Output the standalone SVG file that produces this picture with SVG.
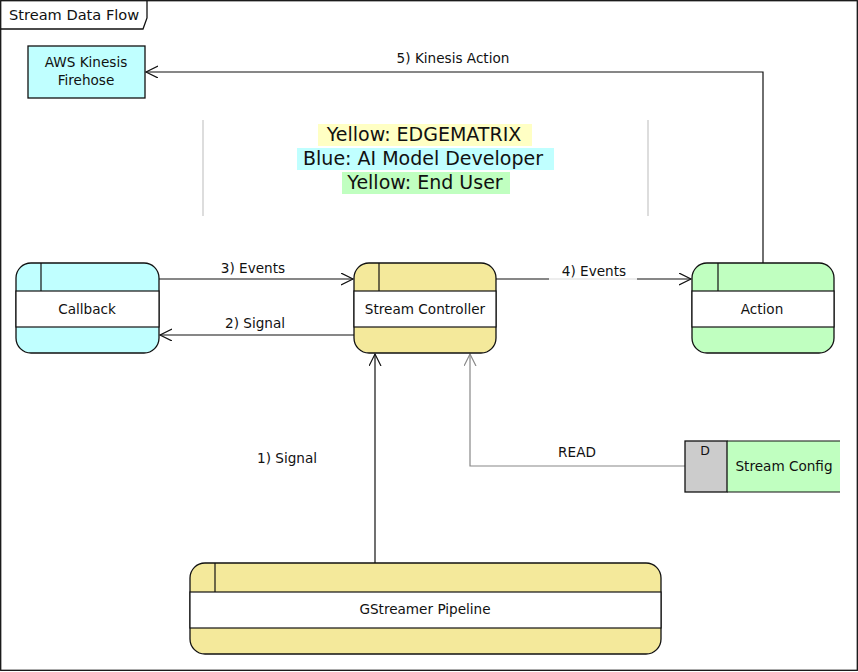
<svg xmlns="http://www.w3.org/2000/svg" width="858" height="672" viewBox="0 0 858 672">
<defs>
<style>
text{font-family:"DejaVu Sans","Liberation Sans",sans-serif;fill:#111;}
.lbl{font-size:13.6px;text-anchor:middle;}
.leg{font-size:19px;text-anchor:middle;}
.box{stroke:#111;stroke-width:1.3;}
.band{fill:#fff;stroke:#111;stroke-width:1.2;}
.ln{stroke:#111;stroke-width:1.2;fill:none;}
.conn{stroke:#111;stroke-width:1.2;fill:none;}
.gray{stroke:#888;stroke-width:1.2;fill:none;}
</style>
<marker id="ah" markerWidth="14" markerHeight="14" refX="12" refY="6" orient="auto" markerUnits="userSpaceOnUse">
<path d="M0,0 L12,6 L0,12" fill="none" stroke="#111" stroke-width="1.2"/>
</marker>
<marker id="ahg" markerWidth="14" markerHeight="14" refX="12" refY="6" orient="auto" markerUnits="userSpaceOnUse">
<path d="M0,0 L12,6 L0,12" fill="none" stroke="#888" stroke-width="1.2"/>
</marker>
</defs>
<rect x="0" y="0" width="858" height="672" fill="#fff"/>
<g id="frame">
<rect x="0.7" y="0.7" width="856.6" height="669.6" fill="none" stroke="#111" stroke-width="1.3"/>
<path d="M0.7,29 L143,29 L147,18 L147,0.7" fill="none" stroke="#111" stroke-width="1.3"/>
<text x="9" y="20" style="font-size:14.6px">Stream Data Flow</text>
</g>
<g id="legend">
<line x1="203" y1="120" x2="203" y2="216" stroke="#bbb" stroke-width="1"/>
<line x1="648" y1="120" x2="648" y2="216" stroke="#bbb" stroke-width="1"/>
<rect x="318" y="124" width="214" height="22" fill="#ffffc4"/>
<rect x="297" y="148" width="257" height="22" fill="#c0ffff"/>
<rect x="342" y="172" width="168" height="22" fill="#c0ffc0"/>
<text class="leg" x="424" y="141">Yellow: EDGEMATRIX</text>
<text class="leg" x="423" y="165">Blue: AI Model Developer</text>
<text class="leg" x="425" y="189">Yellow: End User</text>
</g>
<g id="connectors">
<line class="conn" x1="159" y1="279" x2="353" y2="279" marker-end="url(#ah)"/>
<text class="lbl" x="253" y="273">3) Events</text>
<line class="conn" x1="354" y1="335" x2="160" y2="335" marker-end="url(#ah)"/>
<text class="lbl" x="255" y="328">2) Signal</text>
<line class="conn" x1="496" y1="279" x2="691" y2="279" marker-end="url(#ah)"/>
<rect x="549" y="262" width="88" height="18" fill="#fff" opacity="0.85"/>
<text class="lbl" x="594" y="276">4) Events</text>
<polyline class="conn" points="763,263 763,72 146,72" marker-end="url(#ah)"/>
<text class="lbl" x="453" y="63">5) Kinesis Action</text>
<line class="conn" x1="375" y1="563" x2="375" y2="354" marker-end="url(#ah)"/>
<text class="lbl" x="287" y="463">1) Signal</text>
<polyline class="gray" points="685,466 470,466 470,354" marker-end="url(#ahg)"/>
<text class="lbl" x="577" y="457">READ</text>
</g>
<g id="aws-kinesis">
<rect class="box" x="28" y="46" width="117" height="52" fill="#c0ffff"/>
<text class="lbl" x="86" y="67">AWS Kinesis</text>
<text class="lbl" x="86" y="85">Firehose</text>
</g>
<g id="callback">
<rect class="box" x="16" y="263" width="143" height="90" rx="15" fill="#c0ffff"/>
<rect class="band" x="16" y="291" width="143" height="36"/>
<line class="ln" x1="41" y1="263" x2="41" y2="291"/>
<text class="lbl" x="87" y="314">Callback</text>
</g>
<g id="stream-controller">
<rect class="box" x="354" y="263" width="142" height="90" rx="15" fill="#f4e99b"/>
<rect class="band" x="354" y="291" width="142" height="36"/>
<line class="ln" x1="379" y1="263" x2="379" y2="291"/>
<text class="lbl" x="425" y="314">Stream Controller</text>
</g>
<g id="action">
<rect class="box" x="692" y="263" width="142" height="90" rx="15" fill="#c0ffc0"/>
<rect class="band" x="692" y="291" width="142" height="36"/>
<line class="ln" x1="718" y1="263" x2="718" y2="291"/>
<text class="lbl" x="762" y="314">Action</text>
</g>
<g id="gstreamer-pipeline">
<rect class="box" x="190" y="563" width="471" height="91" rx="15" fill="#f4e99b"/>
<rect class="band" x="190" y="592" width="471" height="36"/>
<line class="ln" x1="215" y1="563" x2="215" y2="592"/>
<text class="lbl" x="425" y="614">GStreamer Pipeline</text>
</g>
<g id="stream-config">
<rect x="727" y="441" width="113" height="51" fill="#c0ffc0"/>
<rect x="685" y="441" width="42" height="51" fill="#cccccc" stroke="#111" stroke-width="1.3"/>
<line class="ln" x1="727" y1="441" x2="840" y2="441"/>
<line class="ln" x1="727" y1="492" x2="840" y2="492"/>
<text x="705" y="455" style="font-size:12.5px;text-anchor:middle">D</text>
<text class="lbl" x="784" y="471">Stream Config</text>
</g>
</svg>
